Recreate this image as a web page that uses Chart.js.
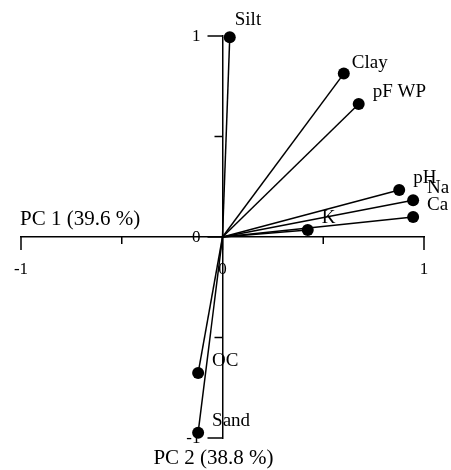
<!DOCTYPE html>
<html>
<head>
<meta charset="utf-8">
<script src="https://cdn.jsdelivr.net/npm/chart.js@4.4.0/dist/chart.umd.min.js"></script>
<style>
  html, body { margin: 0; padding: 0; background: #fff; }
  #wrap { width: 451px; height: 470px; position: relative; }
</style>
</head>
<body>
<div id="wrap"><canvas id="chart-pca"></canvas></div>
<script>
// loadings
var variables = ['Silt', 'Clay', 'pF WP', 'pH', 'Na', 'Ca', 'K', 'OC', 'Sand'];
var pc1 = [0.036, 0.602, 0.676, 0.877, 0.946, 0.946, 0.423, -0.121, -0.121];
var pc2 = [0.994, 0.813, 0.662, 0.234, 0.183, 0.100, 0.035, -0.677, -0.974];
var axisTicks = [-1, -0.5, 0, 0.5, 1];
var xTitle = 'PC 1 (39.6 %)';
var yTitle = 'PC 2 (38.8 %)';

var serif = '"Liberation Serif", "DejaVu Serif", serif';

var datasets = [];
for (let i = 0; i < variables.length; i++) {
    datasets.push({
        label: variables[i],
        data: [{x: 0, y: 0}, {x: pc1[i], y: pc2[i]}],
        showLine: true,
        borderColor: '#000',
        borderWidth: 1.5,
        pointRadius: [0, 6],
        pointHoverRadius: [0, 6],
        pointBackgroundColor: '#000',
        pointBorderWidth: 0,
        clip: false
    });
}

// tick marks (long at integers, short at halves), y tick labels, axis titles, point labels
var pcaDecor = {
    id: 'pcaDecor',
    afterDatasetsDraw(chart) {
        var ctx = chart.ctx;
        var xs = chart.scales.x, ys = chart.scales.y;
        var x0 = xs.getPixelForValue(0), y0 = ys.getPixelForValue(0);
        ctx.save();
        ctx.strokeStyle = '#000';
        ctx.lineWidth = 1.5;
        axisTicks.forEach(v => {
            var big = Number.isInteger(v);
            var px = xs.getPixelForValue(v);
            ctx.beginPath();
            ctx.moveTo(px, y0);
            ctx.lineTo(px, y0 + (big ? 13 : 7));
            ctx.stroke();
            var py = ys.getPixelForValue(v);
            ctx.beginPath();
            ctx.moveTo(x0 - (big ? 15 : 8), py);
            ctx.lineTo(x0, py);
            ctx.stroke();
        });

        ctx.fillStyle = '#000';
        ctx.font = '17px ' + serif;
        ctx.textAlign = 'right';
        ctx.textBaseline = 'middle';
        axisTicks.forEach(v => {
            if (!Number.isInteger(v)) return;
            ctx.fillText(String(v), x0 - 22, ys.getPixelForValue(v) + 1);
        });

        ctx.font = '21px ' + serif;
        ctx.textAlign = 'left';
        ctx.fillText(xTitle, chart.chartArea.left - 1, y0 - 18);
        ctx.textAlign = 'center';
        ctx.fillText(yTitle, x0 - 9, chart.chartArea.bottom + 20);

        ctx.font = '19px ' + serif;
        ctx.textAlign = 'left';
        chart.data.datasets.forEach((ds, i) => {
            var pt = chart.getDatasetMeta(i).data[1];
            var dx = 14, dy = -12;
            if (ds.label == 'Silt') { dx = 5; dy = -17; }
            if (ds.label == 'Clay') { dx = 8; dy = -11; }
            ctx.fillText(ds.label, pt.x + dx, pt.y + dy);
        });
        ctx.restore();
    }
};

const pcaContext = document.getElementById('chart-pca').getContext('2d');
var pcaChart = new Chart(pcaContext, {
    type: 'scatter',
    data: { datasets: datasets },
    options: {
        responsive: true,
        maintainAspectRatio: false,
        animation: false,
        layout: { padding: { left: 21, right: 27, top: 36, bottom: 32 } },
        plugins: { legend: { display: false }, tooltip: { enabled: false } },
        scales: {
            x: {
                type: 'linear', min: -1, max: 1,
                position: { y: 0 },
                afterBuildTicks: s => { s.ticks = axisTicks.map(v => ({value: v})); },
                afterFit: s => { s.height = 0; s.paddingLeft = 0; s.paddingRight = 0; },
                grid: { display: true, drawOnChartArea: false, drawTicks: false },
                border: { display: true, color: '#000', width: 1.5 },
                ticks: {
                    color: '#000', padding: 22, maxRotation: 0, autoSkip: false,
                    font: { family: serif, size: 17 },
                    callback: v => Number.isInteger(v) ? String(v) : ''
                }
            },
            y: {
                type: 'linear', min: -1, max: 1,
                position: { x: 0 },
                afterBuildTicks: s => { s.ticks = axisTicks.map(v => ({value: v})); },
                afterFit: s => { s.width = 0; s.paddingTop = 0; s.paddingBottom = 0; },
                grid: { display: true, drawOnChartArea: false, drawTicks: false },
                border: { display: true, color: '#000', width: 1.5 },
                ticks: { display: false }
            }
        }
    },
    plugins: [pcaDecor]
});
</script>
</body>
</html>
